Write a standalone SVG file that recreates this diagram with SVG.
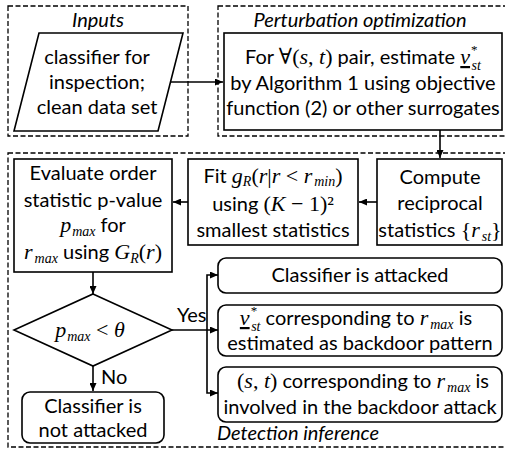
<svg xmlns="http://www.w3.org/2000/svg" width="505" height="450" viewBox="0 0 505 450">
<style>
.t{font-family:Lato,"Open Sans","Liberation Sans",sans-serif;font-size:20px;fill:#000}
.c{text-anchor:middle}
.it{font-style:italic}
.m{font-family:"Liberation Serif","DejaVu Serif",serif;font-style:italic;font-size:22px}
.u{font-family:"Liberation Serif","DejaVu Serif",serif;font-style:normal;font-size:22px}
.sb{font-family:"Liberation Serif","DejaVu Serif",serif;font-style:italic;font-size:14px}
.sp{font-family:"Liberation Serif","DejaVu Serif",serif;font-style:normal;font-size:13px}
.box{fill:#fff;stroke:#000;stroke-width:1.6}
.dash{fill:none;stroke:#000;stroke-width:1.3;stroke-dasharray:5 2.5}
.conn{fill:none;stroke:#000;stroke-width:1.6;marker-end:url(#ah)}
</style>
<defs>
<marker id="ah" markerUnits="userSpaceOnUse" markerWidth="8" markerHeight="7" refX="8" refY="3.5" orient="auto">
<path d="M0,0 L8,3.5 L0,7 z" fill="#000"/>
</marker>
</defs>

<g id="inputs-frame">
<rect class="dash" x="8" y="6" width="180" height="130"/>
<text class="t c it" x="98" y="27">Inputs</text>
</g>
<g id="perturbation-frame">
<rect class="dash" x="218" y="6" width="292" height="130"/>
<text class="t c it" x="360" y="27">Perturbation optimization</text>
</g>
<g id="detection-frame">
<rect class="dash" x="8" y="153" width="502" height="294"/>
<text class="t it" x="217" y="440">Detection inference</text>
</g>

<g id="connectors">
<line class="conn" x1="170.5" y1="82" x2="223" y2="82"/>
<line class="conn" x1="440" y1="130" x2="440" y2="158"/>
<line class="conn" x1="377" y1="202" x2="359" y2="202"/>
<line class="conn" x1="188" y1="202" x2="173" y2="202"/>
<line class="conn" x1="93" y1="272" x2="93" y2="294"/>
<line class="conn" x1="93" y1="366" x2="93" y2="391"/>
<line class="conn" x1="172" y1="330" x2="218" y2="330"/>
<polyline class="conn" points="207,330 207,275 218,275"/>
<polyline class="conn" points="207,330 207,393 218,393"/>
<text class="t" x="177" y="322">Yes</text>
<text class="t" x="101" y="384">No</text>
</g>

<g id="inputs">
<polygon class="box" points="39,33 183,33 158,131 14,131"/>
<text class="t c" x="97" y="64">classifier for</text>
<text class="t c" x="97" y="89">inspection;</text>
<text class="t c" x="97" y="114">clean data set</text>
</g>

<g id="perturbation">
<rect class="box" x="224" y="33" width="278" height="97"/>
<text class="t c" x="363" y="64">For <tspan class="u">∀(</tspan><tspan class="m">s</tspan><tspan class="u">, </tspan><tspan class="m">t</tspan><tspan class="u">)</tspan> pair, estimate <tspan class="m" text-decoration="underline">v</tspan><tspan class="sp" dx="1" dy="-10">*</tspan><tspan class="sb" dx="-6" dy="16">st</tspan></text>
<text class="t c" x="363" y="90">by Algorithm 1 using objective</text>
<text class="t c" x="363" y="115">function (2) or other surrogates</text>
</g>

<g id="evaluate">
<rect class="box" x="14" y="159" width="158" height="113"/>
<text class="t c" x="93" y="180">Evaluate order</text>
<text class="t c" x="93" y="207">statistic p-value</text>
<text class="t c" x="93" y="232"><tspan class="m">p</tspan><tspan class="sb" dx="1" dy="4">max</tspan><tspan dy="-4"> for</tspan></text>
<text class="t c" x="93" y="259"><tspan class="m">r</tspan><tspan class="sb" dx="2" dy="4">max</tspan><tspan dy="-4"> using </tspan><tspan class="m">G</tspan><tspan class="sb" dy="4">R</tspan><tspan class="u" dy="-4">(</tspan><tspan class="m">r</tspan><tspan class="u">)</tspan></text>
</g>

<g id="fit">
<rect class="box" x="188" y="159" width="170" height="86"/>
<text class="t c" x="273" y="183">Fit <tspan class="m">g</tspan><tspan class="sb" dy="3">R</tspan><tspan class="u" dy="-3">(</tspan><tspan class="m">r</tspan><tspan class="u">|</tspan><tspan class="m">r</tspan><tspan class="u"> &lt; </tspan><tspan class="m">r</tspan><tspan class="sb" dx="2" dy="3">min</tspan><tspan class="u" dy="-3">)</tspan></text>
<text class="t c" x="273" y="211">using <tspan class="u">(</tspan><tspan class="m">K</tspan><tspan class="u"> − 1)²</tspan></text>
<text class="t c" x="273" y="237">smallest statistics</text>
</g>

<g id="compute">
<rect class="box" x="377" y="159" width="125" height="86"/>
<text class="t c" x="440" y="184">Compute</text>
<text class="t c" x="440" y="210">reciprocal</text>
<text class="t c" x="440" y="237">statistics <tspan class="u">{</tspan><tspan class="m">r</tspan><tspan class="sb" dx="2" dy="4">st</tspan><tspan class="u" dy="-4">}</tspan></text>
</g>

<g id="decision">
<polygon class="box" points="93,294 172,330 93,366 14,330"/>
<text class="t c" x="90" y="337"><tspan class="m">p</tspan><tspan class="sb" dx="1" dy="4">max</tspan><tspan class="u" dy="-4"> &lt; </tspan><tspan class="m">θ</tspan></text>
</g>

<g id="not-attacked">
<rect class="box" x="22" y="392" width="142" height="51" rx="8"/>
<text class="t c" x="93" y="413">Classifier is</text>
<text class="t c" x="93" y="437">not attacked</text>
</g>

<g id="attacked">
<rect class="box" x="218" y="258" width="284" height="35" rx="8"/>
<text class="t c" x="360" y="282">Classifier is attacked</text>
</g>

<g id="pattern">
<rect class="box" x="218" y="305" width="284" height="51" rx="8"/>
<text class="t c" x="356" y="325"><tspan class="m" text-decoration="underline">v</tspan><tspan class="sp" dx="1" dy="-10">*</tspan><tspan class="sb" dx="-6" dy="16">st</tspan><tspan dy="-6"> corresponding to </tspan><tspan class="m">r</tspan><tspan class="sb" dx="2" dy="4">max</tspan><tspan dy="-4"> is</tspan></text>
<text class="t c" x="360" y="350">estimated as backdoor pattern</text>
</g>

<g id="pair">
<rect class="box" x="218" y="367" width="284" height="55" rx="8"/>
<text class="t c" x="363" y="388"><tspan class="u">(</tspan><tspan class="m">s</tspan><tspan class="u">, </tspan><tspan class="m">t</tspan><tspan class="u">)</tspan> corresponding to <tspan class="m">r</tspan><tspan class="sb" dx="2" dy="4">max</tspan><tspan dy="-4"> is</tspan></text>
<text class="t c" x="360" y="414">involved in the backdoor attack</text>
</g>
</svg>
